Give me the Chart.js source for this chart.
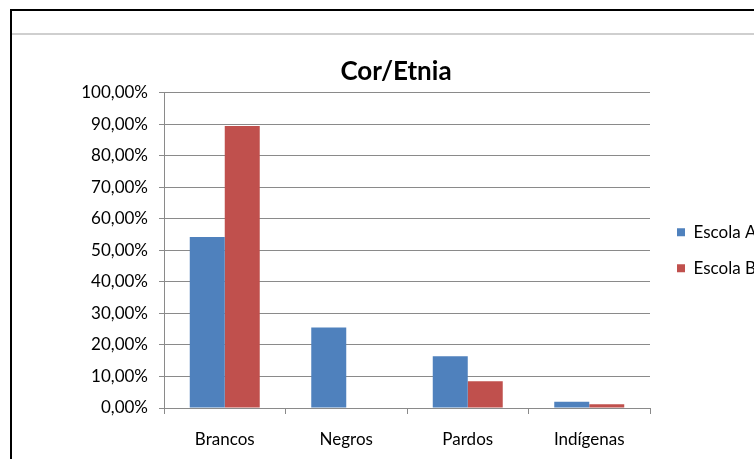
<!DOCTYPE html>
<html>
<head>
<meta charset="utf-8">
<script src="https://cdn.jsdelivr.net/npm/chart.js@4/dist/chart.umd.min.js"></script>
<style>
  html, body { margin: 0; padding: 0; background: #fff; width: 754px; height: 459px; overflow: hidden; position: relative; }
  #frameTop { position: absolute; left: 10px; top: 9px; width: 760px; height: 2px; background: #000; }
  #frameLeft { position: absolute; left: 10px; top: 9px; width: 2px; height: 460px; background: #000; }
  #sep { position: absolute; left: 12px; top: 33px; width: 760px; height: 2px; background: #cfcfcf; }
  #c { position: absolute; left: 0; top: 0; }
</style>
</head>
<body>
<div id="frameTop"></div>
<div id="frameLeft"></div>
<div id="sep"></div>
<canvas id="c" width="792" height="459"></canvas>
<script>
const categories = ["Brancos", "Negros", "Pardos", "Indígenas"];
const escolaA = [54.2, 25.5, 16.4, 2.0];
const escolaB = [89.4, 0, 8.5, 1.2];
const seriesNames = ["Escola A", "Escola B"];
const yTickLabels = ["0,00%", "10,00%", "20,00%", "30,00%", "40,00%", "50,00%", "60,00%", "70,00%", "80,00%", "90,00%", "100,00%"];
const chartTitle = "Cor/Etnia";

const FONT = "Lato, 'Open Sans', sans-serif";
const GRID = "#8a8a8a";

const legendWidthFix = {
  id: 'legendWidthFix',
  afterInit(chart) {
    const lg = chart.legend;
    if (lg) {
      const orig = lg.fit;
      lg.fit = function () { orig.call(this); this.width = 134; };
    }
  }
};

new Chart(document.getElementById('c'), {
  type: 'bar',
  data: {
    labels: categories,
    datasets: [
      { label: seriesNames[0], data: escolaA, backgroundColor: '#4F81BD', borderWidth: 0 },
      { label: seriesNames[1], data: escolaB, backgroundColor: '#C0504D', borderWidth: 0 }
    ]
  },
  options: {
    responsive: false,
    animation: false,
    devicePixelRatio: 1,
    layout: { padding: 0 },
    datasets: { bar: { categoryPercentage: 0.576, barPercentage: 1.0 } },
    scales: {
      x: {
        grid: { display: true, drawOnChartArea: false, drawTicks: true, tickLength: 6, color: GRID, offset: true },
        border: { display: true, color: GRID, width: 1 },
        ticks: { color: '#000', font: { family: FONT, size: 17 }, padding: 15, maxRotation: 0 },
        afterFit(s) { s.height = 51; }
      },
      y: {
        min: 0, max: 100,
        grid: { color: GRID, tickLength: 5, drawTicks: true },
        border: { display: true, color: GRID, width: 1 },
        ticks: {
          stepSize: 10,
          color: '#000',
          font: { family: FONT, size: 17 },
          padding: 11,
          callback: (v, i) => yTickLabels[i]
        },
        afterFit(s) { s.width = 164; }
      },
      y2: {
        position: 'right',
        display: true,
        grid: { display: false },
        border: { display: false },
        ticks: { display: false },
        afterFit(s) { s.width = 8; }
      }
    },
    plugins: {
      title: {
        display: true,
        text: chartTitle,
        color: '#000',
        font: { family: FONT, size: 26, weight: 'bold' },
        padding: { top: 56, bottom: 5.5 }
      },
      legend: {
        position: 'right',
        align: 'center',
        fullSize: false,
        labels: {
          color: '#000',
          font: { family: FONT, size: 17 },
          boxWidth: 8,
          boxHeight: 8,
          padding: 19
        }
      },
      tooltip: { enabled: false }
    }
  },
  plugins: [legendWidthFix]
});
</script>
</body>
</html>
